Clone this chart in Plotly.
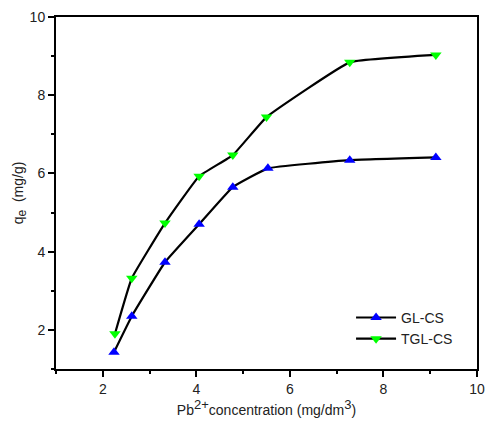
import plotly.graph_objects as go

x_gl = [2.24, 2.62, 3.33, 4.06, 4.78, 5.53, 7.28, 9.12]
y_gl = [1.43, 2.35, 3.73, 4.70, 5.65, 6.13, 6.34, 6.41]
x_tgl = [2.26, 2.62, 3.33, 4.06, 4.78, 5.50, 7.28, 9.12]
y_tgl = [1.90, 3.32, 4.73, 5.93, 6.47, 7.44, 8.84, 9.03]

font = dict(family="Liberation Sans, Arial, sans-serif", size=14, color="#222")

fig = go.Figure()
fig.add_trace(go.Scatter(x=x_gl, y=y_gl, name="GL-CS", mode="lines+markers",
                         line=dict(color="black", width=2.2, shape="spline", smoothing=0.3),
                         marker=dict(symbol="triangle-up", size=10, color="#0000ff", line=dict(width=0))))
fig.add_trace(go.Scatter(x=x_tgl, y=y_tgl, name="TGL-CS", mode="lines+markers",
                         line=dict(color="black", width=2.2, shape="spline", smoothing=0.3),
                         marker=dict(symbol="triangle-down", size=10, color="#00ff00", line=dict(width=0))))

axis_common = dict(showline=True, linecolor="black", linewidth=2, mirror=True,
                   ticks="outside", ticklen=6, tickwidth=1.5, tickcolor="black",
                   showgrid=False, zeroline=False, tickfont=font, automargin=False,
                   minor=dict(ticks="outside", ticklen=3, tickwidth=1.5, tickcolor="black", dtick=1))

fig.update_xaxes(range=[1, 10], dtick=2, tick0=0,
                 title=dict(text="Pb<sup><span style='font-size:13px'>2+</span></sup>concentration (mg/dm<sup><span style='font-size:13px'>3</span></sup>)",
                            font=font, standoff=9),
                 **axis_common)
fig.update_yaxes(range=[1, 10], dtick=2, tick0=0,
                 title=dict(text="q<sub><span style='font-size:12px'>e</span></sub>  (mg/g)", font=font, standoff=3),
                 **axis_common)

fig.update_layout(
    width=488, height=423,
    margin=dict(l=56, r=11, t=17, b=54, autoexpand=False),
    plot_bgcolor="white", paper_bgcolor="white",
    font=font,
    showlegend=True,
    legend=dict(x=0.955, y=0.04, xanchor="right", yanchor="bottom",
                bgcolor="rgba(0,0,0,0)", font=font, itemwidth=40, tracegroupgap=0),
)

fig.write_html("out.html", config={"displayModeBar": False},
               post_script="document.body.style.margin='0';document.body.style.padding='0';")
